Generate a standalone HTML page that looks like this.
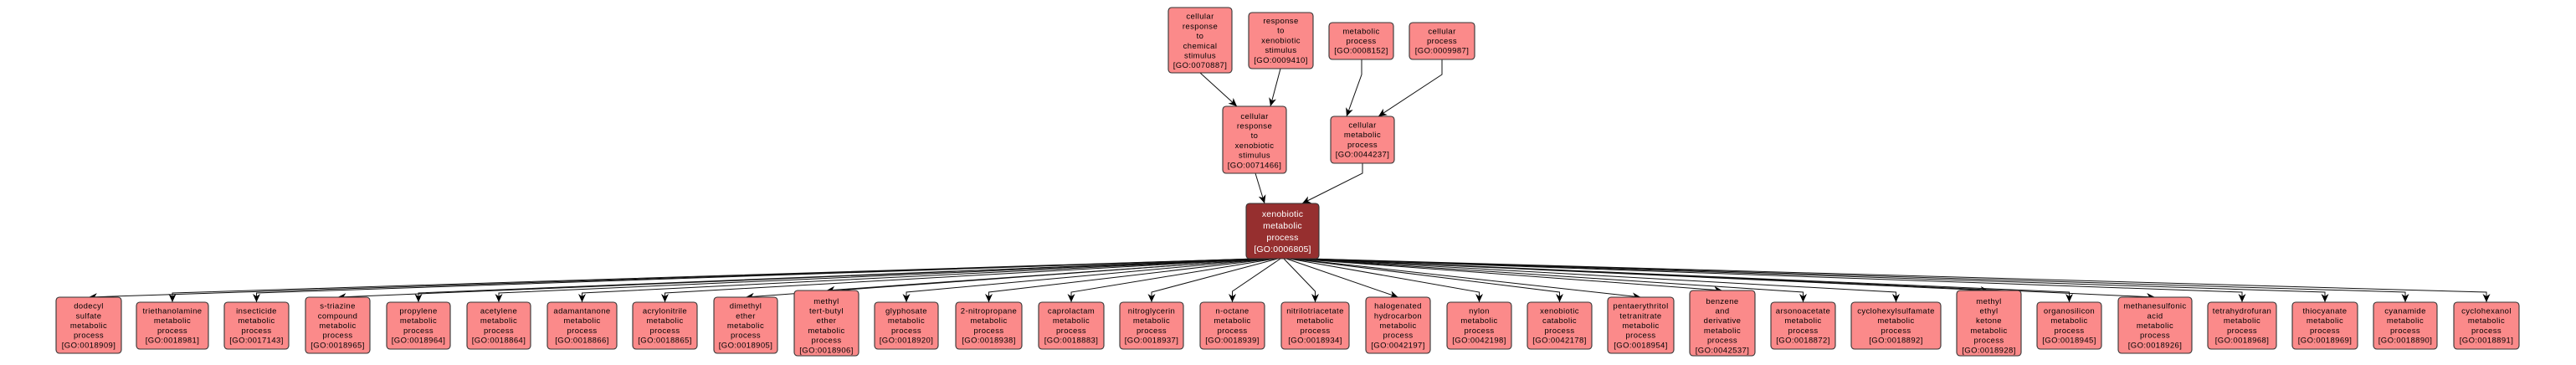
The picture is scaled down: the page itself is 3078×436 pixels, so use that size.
<!DOCTYPE html>
<html><head><meta charset="utf-8"><style>
html,body{margin:0;padding:0;background:#fff;}
svg{display:block;}
text{font-family:"Liberation Sans",sans-serif;font-size:9.5px;letter-spacing:0.4px;fill:#000;text-anchor:middle;}
.b{fill:#fb8a8a;stroke:#333;stroke-width:1.1;}
.c{fill:#962f2f;stroke:#333;stroke-width:1.1;}
.w{fill:#fff;font-size:10.5px;letter-spacing:0.2px;}
.e{fill:none;stroke:#111;stroke-width:1;marker-end:url(#a);}
</style></head><body>
<svg width="3078" height="436" viewBox="0 0 3078 436" xmlns="http://www.w3.org/2000/svg">
<defs><marker id="a" markerUnits="userSpaceOnUse" markerWidth="11" markerHeight="10" refX="10" refY="4.5" orient="auto"><path d="M0,0 L10,4.5 L0,9 L3,4.5 z" fill="#000"/></marker></defs>

<!-- upper edges -->
<path class="e" d="M1434,87 L1478,127"/>
<path class="e" d="M1530,82 L1518,127"/>
<path class="e" d="M1627,71 L1627,89 L1609,139"/>
<path class="e" d="M1723,71 L1723,89 L1647,139"/>
<path class="e" d="M1500,207 L1511,243"/>
<path class="e" d="M1628,195 L1628,207 L1556,243"/>

<!-- lower edges -->
<path class="e" d="M1500,309 L106,355"/>
<path class="e" d="M1502,309 L206,350 L206,361"/>
<path class="e" d="M1504,309 L306.5,350 L306.5,361"/>
<path class="e" d="M1506,309 L403.5,355"/>
<path class="e" d="M1508,309 L500,350 L500,361"/>
<path class="e" d="M1510,309 L596,350 L596,361"/>
<path class="e" d="M1512,309 L695.5,350 L695.5,361"/>
<path class="e" d="M1514,309 L794.5,350 L794.5,361"/>
<path class="e" d="M1516,309 L891,355"/>
<path class="e" d="M1518,309 L987.5,347"/>
<path class="e" d="M1520,309 L1083,349 L1083,361"/>
<path class="e" d="M1522,309 L1181.5,349 L1181.5,361"/>
<path class="e" d="M1524,309 L1280,349 L1280,361"/>
<path class="e" d="M1527,309 L1376,349 L1376,361"/>
<path class="e" d="M1530,309 L1472.5,348 L1472.5,361"/>
<path class="e" d="M1534,309 L1571.5,348 L1571.5,361"/>
<path class="e" d="M1537,309 L1670.5,355"/>
<path class="e" d="M1540,309 L1767.5,349 L1767.5,361"/>
<path class="e" d="M1542,309 L1863.5,349 L1863.5,361"/>
<path class="e" d="M1544,309 L1960.5,355"/>
<path class="e" d="M1546,309 L2058,347"/>
<path class="e" d="M1548,309 L2154.5,349 L2154.5,361"/>
<path class="e" d="M1550,309 L2265.5,349 L2265.5,361"/>
<path class="e" d="M1552,309 L2376.5,347"/>
<path class="e" d="M1554,309 L2472.5,349 L2472.5,361"/>
<path class="e" d="M1556,309 L2575,355"/>
<path class="e" d="M1558,309 L2679,349 L2679,361"/>
<path class="e" d="M1560,309 L2778,349 L2778,361"/>
<path class="e" d="M1562,309 L2874,349 L2874,361"/>
<path class="e" d="M1564,309 L2971,349 L2971,361"/>

<!-- top nodes -->
<rect class="b" x="1396" y="9" width="76" height="78" rx="4"/>
<text x="1434" y="22.7"><tspan x="1434">cellular</tspan><tspan x="1434" dy="11.7">response</tspan><tspan x="1434" dy="11.7">to</tspan><tspan x="1434" dy="11.7">chemical</tspan><tspan x="1434" dy="11.7">stimulus</tspan><tspan x="1434" dy="11.7">[GO:0070887]</tspan></text>
<rect class="b" x="1492" y="15" width="77" height="67" rx="4"/>
<text x="1530.5" y="28"><tspan x="1530.5">response</tspan><tspan x="1530.5" dy="11.7">to</tspan><tspan x="1530.5" dy="11.7">xenobiotic</tspan><tspan x="1530.5" dy="11.7">stimulus</tspan><tspan x="1530.5" dy="11.7">[GO:0009410]</tspan></text>
<rect class="b" x="1588" y="27" width="77" height="44" rx="4"/>
<text x="1626.5" y="40.3"><tspan x="1626.5">metabolic</tspan><tspan x="1626.5" dy="11.7">process</tspan><tspan x="1626.5" dy="11.7">[GO:0008152]</tspan></text>
<rect class="b" x="1684" y="27" width="78" height="44" rx="4"/>
<text x="1723" y="40.3"><tspan x="1723">cellular</tspan><tspan x="1723" dy="11.7">process</tspan><tspan x="1723" dy="11.7">[GO:0009987]</tspan></text>

<!-- middle nodes -->
<rect class="b" x="1461" y="127" width="76" height="80" rx="4"/>
<text x="1499" y="141.8"><tspan x="1499">cellular</tspan><tspan x="1499" dy="11.7">response</tspan><tspan x="1499" dy="11.7">to</tspan><tspan x="1499" dy="11.7">xenobiotic</tspan><tspan x="1499" dy="11.7">stimulus</tspan><tspan x="1499" dy="11.7">[GO:0071466]</tspan></text>
<rect class="b" x="1590" y="139" width="76" height="56" rx="4"/>
<text x="1628" y="152.5"><tspan x="1628">cellular</tspan><tspan x="1628" dy="11.7">metabolic</tspan><tspan x="1628" dy="11.7">process</tspan><tspan x="1628" dy="11.7">[GO:0044237]</tspan></text>

<!-- center node -->
<rect class="c" x="1489" y="243" width="87" height="66" rx="4"/>
<text class="w" x="1532.5" y="259"><tspan x="1532.5">xenobiotic</tspan><tspan x="1532.5" dy="14">metabolic</tspan><tspan x="1532.5" dy="14">process</tspan><tspan x="1532.5" dy="14">[GO:0006805]</tspan></text>

<!-- bottom row -->
<rect class="b" x="67" y="355" width="78" height="67" rx="4"/>
<text y="368.6"><tspan x="106">dodecyl</tspan><tspan x="106" dy="11.7">sulfate</tspan><tspan x="106" dy="11.7">metabolic</tspan><tspan x="106" dy="11.7">process</tspan><tspan x="106" dy="11.7">[GO:0018909]</tspan></text>
<rect class="b" x="163" y="361" width="86" height="56" rx="4"/>
<text y="374.5"><tspan x="206">triethanolamine</tspan><tspan x="206" dy="11.7">metabolic</tspan><tspan x="206" dy="11.7">process</tspan><tspan x="206" dy="11.7">[GO:0018981]</tspan></text>
<rect class="b" x="268" y="361" width="77" height="56" rx="4"/>
<text y="374.5"><tspan x="306.5">insecticide</tspan><tspan x="306.5" dy="11.7">metabolic</tspan><tspan x="306.5" dy="11.7">process</tspan><tspan x="306.5" dy="11.7">[GO:0017143]</tspan></text>
<rect class="b" x="365" y="355" width="77" height="67" rx="4"/>
<text y="368.6"><tspan x="403.5">s-triazine</tspan><tspan x="403.5" dy="11.7">compound</tspan><tspan x="403.5" dy="11.7">metabolic</tspan><tspan x="403.5" dy="11.7">process</tspan><tspan x="403.5" dy="11.7">[GO:0018965]</tspan></text>
<rect class="b" x="462" y="361" width="76" height="56" rx="4"/>
<text y="374.5"><tspan x="500">propylene</tspan><tspan x="500" dy="11.7">metabolic</tspan><tspan x="500" dy="11.7">process</tspan><tspan x="500" dy="11.7">[GO:0018964]</tspan></text>
<rect class="b" x="558" y="361" width="76" height="56" rx="4"/>
<text y="374.5"><tspan x="596">acetylene</tspan><tspan x="596" dy="11.7">metabolic</tspan><tspan x="596" dy="11.7">process</tspan><tspan x="596" dy="11.7">[GO:0018864]</tspan></text>
<rect class="b" x="654" y="361" width="83" height="56" rx="4"/>
<text y="374.5"><tspan x="695.5">adamantanone</tspan><tspan x="695.5" dy="11.7">metabolic</tspan><tspan x="695.5" dy="11.7">process</tspan><tspan x="695.5" dy="11.7">[GO:0018866]</tspan></text>
<rect class="b" x="756" y="361" width="77" height="56" rx="4"/>
<text y="374.5"><tspan x="794.5">acrylonitrile</tspan><tspan x="794.5" dy="11.7">metabolic</tspan><tspan x="794.5" dy="11.7">process</tspan><tspan x="794.5" dy="11.7">[GO:0018865]</tspan></text>
<rect class="b" x="853" y="355" width="76" height="67" rx="4"/>
<text y="368.6"><tspan x="891">dimethyl</tspan><tspan x="891" dy="11.7">ether</tspan><tspan x="891" dy="11.7">metabolic</tspan><tspan x="891" dy="11.7">process</tspan><tspan x="891" dy="11.7">[GO:0018905]</tspan></text>
<rect class="b" x="949" y="347" width="77" height="78" rx="4"/>
<text y="362.8"><tspan x="987.5">methyl</tspan><tspan x="987.5" dy="11.7">tert-butyl</tspan><tspan x="987.5" dy="11.7">ether</tspan><tspan x="987.5" dy="11.7">metabolic</tspan><tspan x="987.5" dy="11.7">process</tspan><tspan x="987.5" dy="11.7">[GO:0018906]</tspan></text>
<rect class="b" x="1045" y="361" width="76" height="56" rx="4"/>
<text y="374.5"><tspan x="1083">glyphosate</tspan><tspan x="1083" dy="11.7">metabolic</tspan><tspan x="1083" dy="11.7">process</tspan><tspan x="1083" dy="11.7">[GO:0018920]</tspan></text>
<rect class="b" x="1142" y="361" width="79" height="56" rx="4"/>
<text y="374.5"><tspan x="1181.5">2-nitropropane</tspan><tspan x="1181.5" dy="11.7">metabolic</tspan><tspan x="1181.5" dy="11.7">process</tspan><tspan x="1181.5" dy="11.7">[GO:0018938]</tspan></text>
<rect class="b" x="1241" y="361" width="78" height="56" rx="4"/>
<text y="374.5"><tspan x="1280">caprolactam</tspan><tspan x="1280" dy="11.7">metabolic</tspan><tspan x="1280" dy="11.7">process</tspan><tspan x="1280" dy="11.7">[GO:0018883]</tspan></text>
<rect class="b" x="1338" y="361" width="76" height="56" rx="4"/>
<text y="374.5"><tspan x="1376">nitroglycerin</tspan><tspan x="1376" dy="11.7">metabolic</tspan><tspan x="1376" dy="11.7">process</tspan><tspan x="1376" dy="11.7">[GO:0018937]</tspan></text>
<rect class="b" x="1434" y="361" width="77" height="56" rx="4"/>
<text y="374.5"><tspan x="1472.5">n-octane</tspan><tspan x="1472.5" dy="11.7">metabolic</tspan><tspan x="1472.5" dy="11.7">process</tspan><tspan x="1472.5" dy="11.7">[GO:0018939]</tspan></text>
<rect class="b" x="1531" y="361" width="81" height="56" rx="4"/>
<text y="374.5"><tspan x="1571.5">nitrilotriacetate</tspan><tspan x="1571.5" dy="11.7">metabolic</tspan><tspan x="1571.5" dy="11.7">process</tspan><tspan x="1571.5" dy="11.7">[GO:0018934]</tspan></text>
<rect class="b" x="1632" y="355" width="77" height="67" rx="4"/>
<text y="368.6"><tspan x="1670.5">halogenated</tspan><tspan x="1670.5" dy="11.7">hydrocarbon</tspan><tspan x="1670.5" dy="11.7">metabolic</tspan><tspan x="1670.5" dy="11.7">process</tspan><tspan x="1670.5" dy="11.7">[GO:0042197]</tspan></text>
<rect class="b" x="1729" y="361" width="77" height="56" rx="4"/>
<text y="374.5"><tspan x="1767.5">nylon</tspan><tspan x="1767.5" dy="11.7">metabolic</tspan><tspan x="1767.5" dy="11.7">process</tspan><tspan x="1767.5" dy="11.7">[GO:0042198]</tspan></text>
<rect class="b" x="1825" y="361" width="77" height="56" rx="4"/>
<text y="374.5"><tspan x="1863.5">xenobiotic</tspan><tspan x="1863.5" dy="11.7">catabolic</tspan><tspan x="1863.5" dy="11.7">process</tspan><tspan x="1863.5" dy="11.7">[GO:0042178]</tspan></text>
<rect class="b" x="1921" y="355" width="79" height="67" rx="4"/>
<text y="368.6"><tspan x="1960.5">pentaerythritol</tspan><tspan x="1960.5" dy="11.7">tetranitrate</tspan><tspan x="1960.5" dy="11.7">metabolic</tspan><tspan x="1960.5" dy="11.7">process</tspan><tspan x="1960.5" dy="11.7">[GO:0018954]</tspan></text>
<rect class="b" x="2019" y="347" width="78" height="78" rx="4"/>
<text y="362.8"><tspan x="2058">benzene</tspan><tspan x="2058" dy="11.7">and</tspan><tspan x="2058" dy="11.7">derivative</tspan><tspan x="2058" dy="11.7">metabolic</tspan><tspan x="2058" dy="11.7">process</tspan><tspan x="2058" dy="11.7">[GO:0042537]</tspan></text>
<rect class="b" x="2116" y="361" width="77" height="56" rx="4"/>
<text y="374.5"><tspan x="2154.5">arsonoacetate</tspan><tspan x="2154.5" dy="11.7">metabolic</tspan><tspan x="2154.5" dy="11.7">process</tspan><tspan x="2154.5" dy="11.7">[GO:0018872]</tspan></text>
<rect class="b" x="2212" y="361" width="107" height="56" rx="4"/>
<text y="374.5"><tspan x="2265.5">cyclohexylsulfamate</tspan><tspan x="2265.5" dy="11.7">metabolic</tspan><tspan x="2265.5" dy="11.7">process</tspan><tspan x="2265.5" dy="11.7">[GO:0018892]</tspan></text>
<rect class="b" x="2338" y="347" width="77" height="78" rx="4"/>
<text y="362.8"><tspan x="2376.5">methyl</tspan><tspan x="2376.5" dy="11.7">ethyl</tspan><tspan x="2376.5" dy="11.7">ketone</tspan><tspan x="2376.5" dy="11.7">metabolic</tspan><tspan x="2376.5" dy="11.7">process</tspan><tspan x="2376.5" dy="11.7">[GO:0018928]</tspan></text>
<rect class="b" x="2434" y="361" width="77" height="56" rx="4"/>
<text y="374.5"><tspan x="2472.5">organosilicon</tspan><tspan x="2472.5" dy="11.7">metabolic</tspan><tspan x="2472.5" dy="11.7">process</tspan><tspan x="2472.5" dy="11.7">[GO:0018945]</tspan></text>
<rect class="b" x="2531" y="355" width="88" height="67" rx="4"/>
<text y="368.6"><tspan x="2575">methanesulfonic</tspan><tspan x="2575" dy="11.7">acid</tspan><tspan x="2575" dy="11.7">metabolic</tspan><tspan x="2575" dy="11.7">process</tspan><tspan x="2575" dy="11.7">[GO:0018926]</tspan></text>
<rect class="b" x="2638" y="361" width="82" height="56" rx="4"/>
<text y="374.5"><tspan x="2679">tetrahydrofuran</tspan><tspan x="2679" dy="11.7">metabolic</tspan><tspan x="2679" dy="11.7">process</tspan><tspan x="2679" dy="11.7">[GO:0018968]</tspan></text>
<rect class="b" x="2739" y="361" width="78" height="56" rx="4"/>
<text y="374.5"><tspan x="2778">thiocyanate</tspan><tspan x="2778" dy="11.7">metabolic</tspan><tspan x="2778" dy="11.7">process</tspan><tspan x="2778" dy="11.7">[GO:0018969]</tspan></text>
<rect class="b" x="2836" y="361" width="76" height="56" rx="4"/>
<text y="374.5"><tspan x="2874">cyanamide</tspan><tspan x="2874" dy="11.7">metabolic</tspan><tspan x="2874" dy="11.7">process</tspan><tspan x="2874" dy="11.7">[GO:0018890]</tspan></text>
<rect class="b" x="2932" y="361" width="78" height="56" rx="4"/>
<text y="374.5"><tspan x="2971">cyclohexanol</tspan><tspan x="2971" dy="11.7">metabolic</tspan><tspan x="2971" dy="11.7">process</tspan><tspan x="2971" dy="11.7">[GO:0018891]</tspan></text>
</svg>
</body></html>
